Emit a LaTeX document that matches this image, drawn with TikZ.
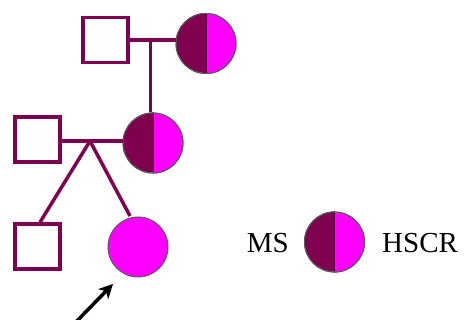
\documentclass[tikz,border=0pt]{standalone}
\usepackage{fontspec}
\setmainfont{Liberation Serif}
\usetikzlibrary{arrows.meta}
\definecolor{plum}{RGB}{128,0,80}
\definecolor{pink}{RGB}{255,0,255}
\tikzset{
  male/.style={draw=plum, line width=3.5pt, fill=white, minimum size=45pt, inner sep=0pt, shape=rectangle},
  female/.style={draw=black!65, line width=1pt, circle, minimum size=60pt, inner sep=0pt},
  link/.style={draw=plum, line width=3.5pt},
  label/.style={font=\fontsize{29}{30}\selectfont, inner sep=0pt}
}
\begin{document}
\begin{tikzpicture}[x=1pt, y=-1pt]
\useasboundingbox (0,0) rectangle (468,320);

% generation I
\node[male] (m1) at (105.5,40) {};
\node[female] (f1) at (206,43.5) {};
% generation II
\node[male] (m2) at (37.5,139.5) {};
\node[female] (f2) at (153,143) {};
% generation III
\node[male] (m3) at (37.5,246.5) {};
\node[female, fill=pink] (f3) at (138,247) {};
% legend
\node[female] (lg) at (334.5,242) {};

% split fill: left dark, right magenta
\foreach \c in {f1,f2,lg}{
  \fill[pink] (\c.south) arc[start angle=-90, end angle=90, radius=30pt] -- cycle;
  \fill[plum] (\c.north) arc[start angle=90, end angle=270, radius=30pt] -- cycle;
  \draw[black!40!plum, line width=1pt] (\c.north) -- (\c.south);
  \node[female] at (\c) {};
}

% marriage lines and descent
\coordinate (mid1) at (150.5,40);
\coordinate (mid2) at (90,141);
\draw[link] (m1.east |- mid1) -- (f1.west |- mid1);
\draw[link] (mid1) -- (mid1 |- f2.north);
\draw[link] (m2.east |- mid2) -- (f2.west |- mid2);
\draw[link] (mid2) -- (m3.north -| 40,0);
\draw[link] (mid2) -- (130,216);

% proband arrow
\coordinate (ptail) at (73,325);
\draw[line width=3.5pt, -{Stealth[length=14pt, width=14pt, inset=4pt]}] (ptail) -- (113,284);

\node[label, anchor=base east] (ms) at (289,252) {MS};
\node[label, anchor=base west] (hs) at (382,252) {HSCR};
\end{tikzpicture}
\end{document}
